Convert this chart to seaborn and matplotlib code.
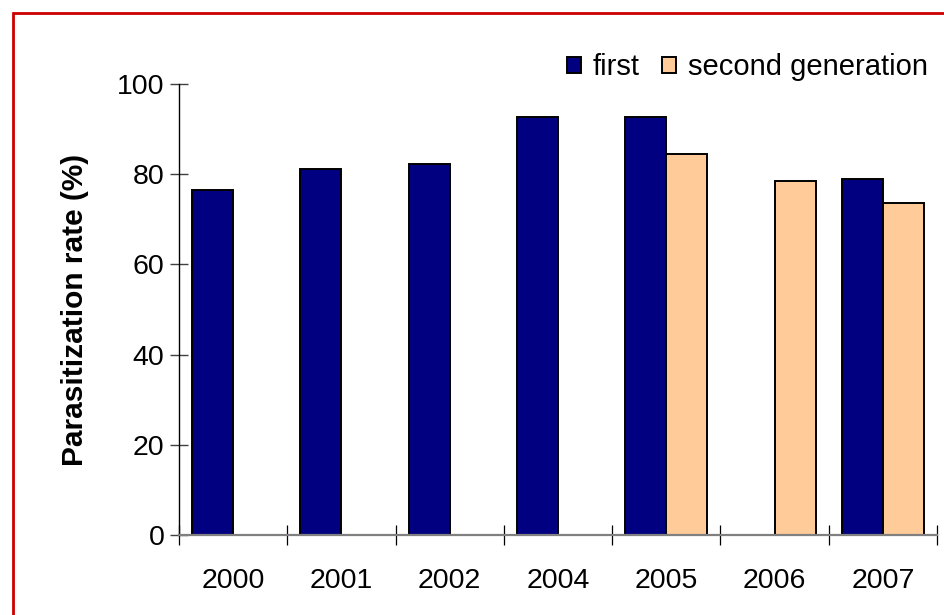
import numpy as np
import pandas as pd
import seaborn as sns
import matplotlib.pyplot as plt
from matplotlib.patches import Rectangle

years = ['2000', '2001', '2002', '2004', '2005', '2006', '2007']
first = [76.5, 81.2, 82.2, 92.7, 92.7, np.nan, 79.0]
second = [np.nan, np.nan, np.nan, np.nan, 84.4, 78.5, 73.7]
series = ['first', 'second generation']
colors = ['#000080', '#FFCC99']

df = pd.DataFrame({
    'year': years * 2,
    'rate': first + second,
    'gen': [series[0]] * len(years) + [series[1]] * len(years),
})

sns.set_style('white')
plt.rcParams['font.family'] = ['Liberation Sans', 'DejaVu Sans']
plt.rcParams['text.color'] = 'black'
plt.rcParams['axes.labelcolor'] = 'black'
plt.rcParams['xtick.color'] = 'black'
plt.rcParams['ytick.color'] = '#404040'
plt.rcParams['xtick.labelcolor'] = 'black'
plt.rcParams['ytick.labelcolor'] = 'black'

fig = plt.figure(figsize=(9.44, 6.15), dpi=100)
ax = fig.add_axes([0.1896, 0.1301, 0.8030, 0.7333])

sns.barplot(data=df, x='year', y='rate', hue='gen', order=years, hue_order=series,
            palette=colors, width=0.76, edgecolor='black', linewidth=1.4,
            saturation=1, ax=ax)

ax.set_ylim(0, 100)
ax.set_xlim(-0.5, len(years) - 0.5)
ax.set_yticks(range(0, 101, 20))
ax.set_xlabel('')
ax.set_ylabel('Parasitization rate (%)', fontsize=21.5, fontweight='bold', labelpad=20)

ax.tick_params(axis='y', direction='inout', length=13, width=1, labelsize=20.5, pad=4, left=True)
ax.tick_params(axis='x', which='major', length=0, labelsize=20.5, pad=24)
ax.set_xticks(np.arange(-0.5, len(years), 1), minor=True)
ax.tick_params(axis='x', which='minor', direction='inout', length=14, width=0.9, bottom=True)

for side in ['top', 'right']:
    ax.spines[side].set_visible(False)
ax.spines['left'].set_color('black')
ax.spines['left'].set_linewidth(1)
ax.spines['bottom'].set_color('#808080')
ax.spines['bottom'].set_linewidth(1.6)

leg = ax.legend(loc='center right', bbox_to_anchor=(0.988, 1.037), ncol=2, frameon=False,
                fontsize=21, handlelength=0.5, handleheight=0.5, handletextpad=0.4,
                columnspacing=0.75, borderaxespad=0, borderpad=0)

fig.patches.append(Rectangle((0.0133, -0.1), 1.2, 1.0795, transform=fig.transFigure,
                             fill=False, edgecolor='#CC0000', linewidth=2))

fig.savefig('out.png', dpi=100)
